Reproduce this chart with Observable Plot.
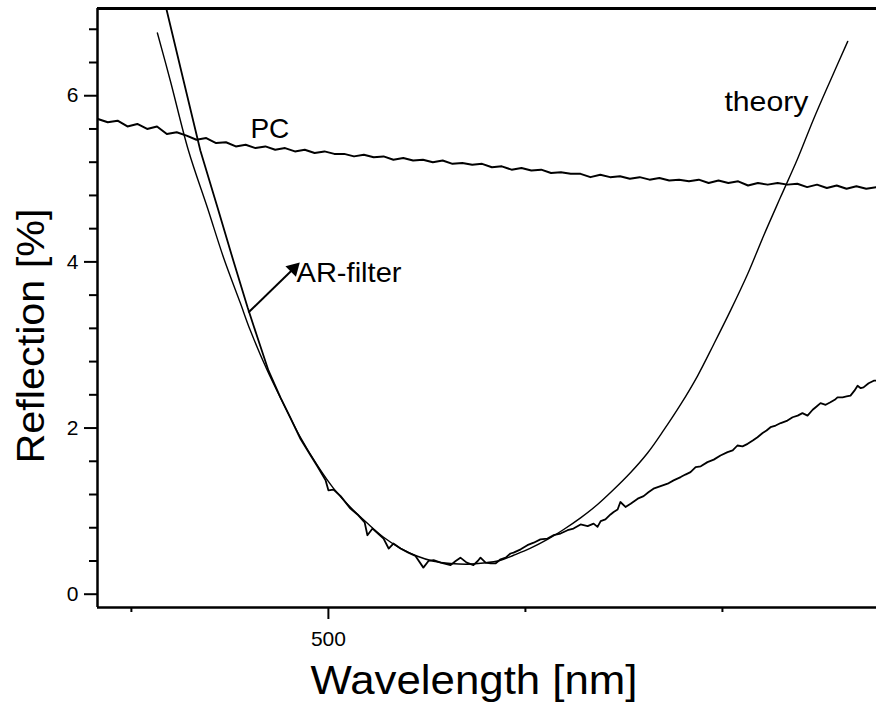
<!DOCTYPE html>
<html><head><meta charset="utf-8">
<script src="https://cdn.jsdelivr.net/npm/d3@7"></script>
<script src="https://cdn.jsdelivr.net/npm/@observablehq/plot@0.6"></script>
<style>
body{margin:0;background:#fff;}
</style></head><body><div id="chart"></div>
<script>
// Axes
const xDomain = [441.4, 639.1];
const yDomain = [-0.16, 7.05];
const xMajorTicks = [500];
const xMinorTicks = [450, 550, 600];
const yMajorTicks = [0, 2, 4, 6];
const yMinorTicks = [0.4, 0.8, 1.2, 1.6, 2.4, 2.8, 3.2, 3.6, 4.4, 4.8, 5.2, 5.6, 6.4, 6.8];

// PC (measured reflection of bare PC)
const pcWavelength = [441.5,444,446.5,449,451.5,454,456.5,459,461.5,464,466.5,469,471.5,474,476.5,479,481.5,484,486.5,489,491.5,494,496.5,499,501.5,504,506.5,509,511.5,514,516.5,519,521.5,524,526.5,529,531.5,534,536.5,539,541.5,544,546.5,549,551.5,554,556.5,559,561.5,564,566.5,569,571.5,574,576.5,579,581.5,584,586.5,589,591.5,594,596.5,599,601.5,604,606.5,609,611.5,614,616.5,619,621.5,624,626.5,629,631.5,634,636.5,639];
const pcReflection = [5.72,5.68,5.70,5.63,5.66,5.60,5.63,5.54,5.56,5.52,5.47,5.49,5.43,5.44,5.39,5.41,5.37,5.39,5.35,5.37,5.33,5.35,5.31,5.33,5.30,5.30,5.27,5.29,5.26,5.27,5.23,5.25,5.22,5.23,5.20,5.22,5.18,5.19,5.17,5.18,5.14,5.15,5.11,5.13,5.10,5.11,5.07,5.08,5.06,5.06,5.02,5.05,5.02,5.03,5.00,5.02,4.99,5.01,4.98,4.99,4.97,4.99,4.95,4.98,4.95,4.97,4.92,4.95,4.93,4.95,4.93,4.94,4.90,4.93,4.89,4.92,4.88,4.91,4.88,4.90];

// theory curve
const theoryWavelength = [456.6,459.9,464.5,469.3,473.4,477.7,480.2,484.5,487.8,492.9,497.2,501.3,505.6,509.9,514.0,518.3,522.6,526.7,531.0,535.3,539.4,543.7,547.0,551.3,555.6,559.7,564.0,568.3,572.4,576.7,581.0,585.1,589.4,593.7,597.8,602.1,606.4,610.4,614.7,619.1,623.1,627.4,631.8];
const theoryReflection = [6.755,6.178,5.337,4.651,4.050,3.498,3.173,2.692,2.368,1.887,1.550,1.274,1.046,0.853,0.685,0.553,0.457,0.397,0.370,0.361,0.375,0.409,0.469,0.554,0.659,0.779,0.919,1.079,1.259,1.464,1.699,1.974,2.284,2.629,3.009,3.419,3.854,4.309,4.774,5.244,5.714,6.184,6.654];

// AR-filter (measured)
const arWavelength = [458.9,463.2,467.5,471.9,475.9,479.5,482.0,484.8,487.9,490.4,492.9,495.5,497.2,499.3,500.0,501.3,503.1,505.6,507.6,509.2,509.9,511.2,514.0,515.3,516.5,518.3,520.3,522.1,524.1,525.4,526.7,528.5,531.0,532.3,533.5,535.1,536.8,537.9,538.6,539.9,541.2,542.4,543.7,545.0,546.2,547.0,548.8,550.5,552.1,553.8,555.6,557.1,558.9,560.7,562.2,564.0,565.8,567.3,568.3,569.1,570.3,571.6,572.4,573.4,574.1,575.4,576.7,578.5,580.0,581.3,582.5,584.3,586.1,587.6,589.4,590.6,591.9,593.2,594.5,596.2,597.8,599.5,601.3,602.6,603.8,605.1,606.4,607.7,608.9,610.2,611.2,612.2,613.5,614.8,616.5,617.8,619.1,620.3,621.6,622.9,623.9,624.9,626.2,627.4,628.5,629.2,630.5,631.5,632.5,633.5,634.3,635.1,635.8,637.1,638.4,639.1];
const arReflection = [7.04,6.19,5.34,4.65,4.01,3.45,3.09,2.69,2.36,2.12,1.87,1.67,1.54,1.37,1.25,1.26,1.18,1.03,0.95,0.865,0.71,0.79,0.67,0.55,0.61,0.55,0.50,0.46,0.32,0.40,0.41,0.38,0.35,0.40,0.44,0.38,0.35,0.40,0.44,0.38,0.37,0.37,0.42,0.44,0.49,0.50,0.54,0.59,0.62,0.66,0.67,0.71,0.73,0.77,0.79,0.84,0.82,0.85,0.81,0.88,0.90,0.96,0.99,1.02,1.11,1.05,1.09,1.15,1.18,1.23,1.27,1.30,1.33,1.37,1.41,1.44,1.47,1.53,1.54,1.59,1.62,1.67,1.71,1.73,1.79,1.78,1.81,1.85,1.89,1.94,1.97,2.01,2.03,2.06,2.09,2.13,2.15,2.18,2.15,2.22,2.26,2.30,2.28,2.31,2.34,2.37,2.37,2.38,2.39,2.45,2.51,2.48,2.49,2.54,2.57,2.57];

// annotations (data coordinates)
const labelText = ["PC", "theory", "AR-filter"];
const labelWavelength = [480.2, 600.5, 491.9];
const labelReflection = [5.60, 5.93, 3.87];
const arrowFrom = [479.7, 3.39];
const arrowTo = [491.2, 3.92];

const pc = pcWavelength.map((x, i) => ({x, y: pcReflection[i]}));
const theory = theoryWavelength.map((x, i) => ({x, y: theoryReflection[i]}));
const ar = arWavelength.map((x, i) => ({x, y: arReflection[i]}));
const labels = labelText.map((t, i) => ({t, x: labelWavelength[i], y: labelReflection[i]}));
const arrow = [{x1: arrowFrom[0], y1: arrowFrom[1], x2: arrowTo[0], y2: arrowTo[1]}];

const chart = Plot.plot({
  width: 876, height: 712,
  marginLeft: 97, marginRight: 0, marginTop: 8, marginBottom: 105,
  x: {domain: xDomain},
  y: {domain: yDomain},
  style: {fontFamily: "'Liberation Sans', Arial, sans-serif", fontSize: "21px", color: "black", background: "white"},
  marks: [
    Plot.axisY(yMajorTicks, {tickSize: 13, tickPadding: 6, strokeWidth: 2, fontSize: 21, tickFormat: d => String(d), label: null}),
    Plot.axisY(yMinorTicks, {tickSize: 8, strokeWidth: 2, tickFormat: () => "", label: null}),
    Plot.axisX(xMajorTicks, {tickSize: 12, tickPadding: 12, strokeWidth: 2, fontSize: 21, tickFormat: d => String(d), label: null}),
    Plot.axisX(xMinorTicks, {tickSize: 5, strokeWidth: 2, tickFormat: () => "", label: null}),
    Plot.ruleX([xDomain[0]], {strokeWidth: 2.5}),
    Plot.ruleY([yDomain[0]], {strokeWidth: 2.5}),
    Plot.ruleY([yDomain[1]], {strokeWidth: 3}),
    Plot.line(pc, {x: "x", y: "y", strokeWidth: 2, curve: "linear"}),
    Plot.line(theory, {x: "x", y: "y", strokeWidth: 1.4, curve: "catmull-rom"}),
    Plot.line(ar, {x: "x", y: "y", strokeWidth: 1.8}),
    Plot.link(arrow, {x1: "x1", y1: "y1", x2: "x2", y2: "y2", strokeWidth: 2}),
    Plot.dot(arrow, {x: "x2", y: "y2", symbol: "triangle", fill: "black", r: 5.5, rotate: 45}),
    Plot.text(labels, {x: "x", y: "y", text: "t", textAnchor: "start", fontSize: 28}),
    Plot.text(["Wavelength [nm]"], {frameAnchor: "bottom", textAnchor: "middle", lineAnchor: "middle", dx: -13, dy: 74, fontSize: 40}),
    Plot.text(["Reflection [%]"], {frameAnchor: "left", textAnchor: "middle", lineAnchor: "middle", dx: -66, dy: 28, rotate: -90, fontSize: 38})
  ]
});
// stretch titles/labels to the reference's text lengths
const stretch = {"Wavelength [nm]": 327, "Reflection [%]": 255, "theory": 84, "AR-filter": 105};
d3.select(chart).selectAll("text").each(function() {
  const L = stretch[this.textContent];
  if (L) { this.setAttribute("textLength", L); this.setAttribute("lengthAdjust", "spacingAndGlyphs"); }
});
document.getElementById("chart").appendChild(chart);
</script></body></html>
